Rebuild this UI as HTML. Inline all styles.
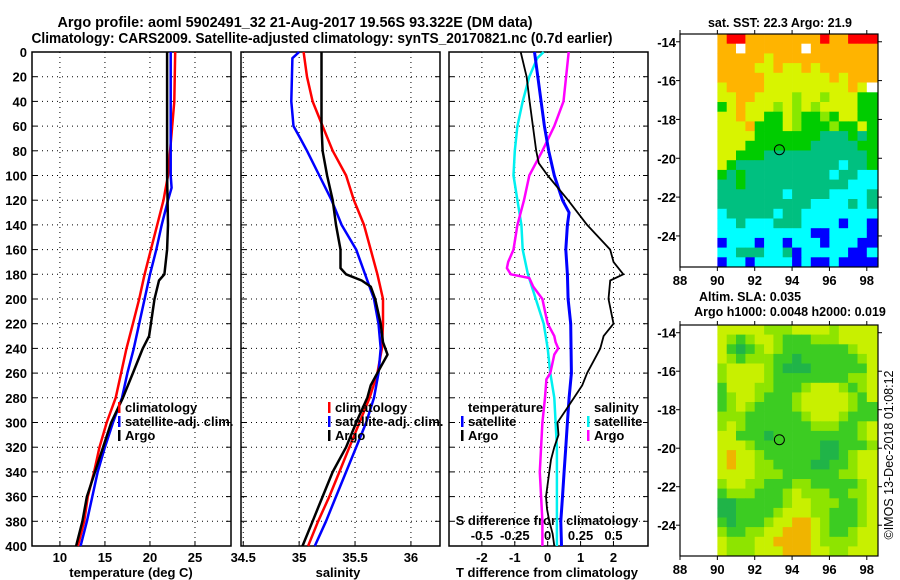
<!DOCTYPE html>
<html><head><meta charset="utf-8">
<style>
html,body{margin:0;padding:0;background:#fff;}
svg{display:block;font-family:"Liberation Sans",sans-serif;font-weight:bold;}
</style></head>
<body>
<svg id="c" width="900" height="580" viewBox="0 0 900 580" xmlns="http://www.w3.org/2000/svg">
<text x="295" y="27" font-size="14.5" text-anchor="middle" textLength="475" lengthAdjust="spacingAndGlyphs">Argo profile: aoml 5902491_32 21-Aug-2017 19.56S 93.322E (DM data)</text>
<text x="322" y="43" font-size="14.5" text-anchor="middle" textLength="581" lengthAdjust="spacingAndGlyphs">Climatology: CARS2009. Satellite-adjusted climatology: synTS_20170821.nc (0.7d earlier)</text>
<g id="g"></g>
</svg>
<script>
// ---------- data ----------
const depthTicks = [0,20,40,60,80,100,120,140,160,180,200,220,240,260,280,300,320,340,360,380,400];
const tempTicks = [10,15,20,25];
const salTicks = [34.5,35,35.5,36];
const dTTicks = [-2,-1,0,1,2];
const dSTicks = [-0.5,-0.25,0,0.25,0.5];
const dSTickLabels = ["-0.5","-0.25","0","0.25","0.5"];

const climDepth = [0,40,100,120,140,160,180,200,220,240,260,280,300,320,340,360,380,400];
const climTemp  = [22.8,22.7,22.0,21.5,20.8,20.1,19.4,18.8,18.1,17.4,16.8,16.2,15.2,14.4,13.8,13.1,12.7,12.0];
const satDepth  = [0,100,110,120,140,160,180,200,220,240,260,280,300,320,340,360,380,400];
const satTemp   = [22.3,22.3,22.4,22.0,21.3,20.7,20.0,19.4,18.8,18.2,17.5,16.9,15.9,15.0,14.2,13.6,13.0,12.3];
const argoTDepth= [0,40,100,140,160,180,185,200,220,230,240,260,280,300,320,340,360,380,400];
const argoTemp  = [21.9,21.9,21.9,22.0,21.9,21.6,21.0,20.5,20.1,19.9,19.2,18.1,17.0,15.7,14.8,13.9,13.0,12.5,11.8];

const climSDepth = [0,20,40,60,80,100,120,140,160,180,200,220,240,260,280,300,320,340,360,380,400];
const climSal    = [35.04,35.07,35.12,35.21,35.30,35.42,35.49,35.58,35.64,35.70,35.75,35.75,35.74,35.70,35.63,35.54,35.45,35.36,35.27,35.17,35.08];
const satSDepth  = [0,5,40,60,70,80,100,120,140,160,180,200,220,240,260,280,300,320,340,360,380,400];
const satSal     = [35.0,34.94,34.93,34.95,35.01,35.07,35.18,35.29,35.38,35.51,35.59,35.67,35.71,35.73,35.71,35.67,35.60,35.51,35.42,35.33,35.24,35.14];
const argoSDepth = [0,60,80,100,120,140,160,175,180,185,190,200,220,235,245,255,270,280,300,320,340,360,380,400];
const argoSal    = [35.20,35.20,35.21,35.25,35.30,35.33,35.37,35.37,35.42,35.56,35.64,35.68,35.73,35.75,35.79,35.73,35.64,35.61,35.51,35.42,35.30,35.21,35.12,35.03];

const dTArgoDepth = [0,20,40,60,80,90,100,120,140,160,170,180,185,200,220,230,240,250,260,270,280,290,300,310,320,330,340,360,370,380,390,400];
const dTArgo      = [-0.82,-0.64,-0.55,-0.45,-0.35,-0.27,0,0.62,1.2,1.9,2.0,2.3,1.9,1.85,2.0,1.7,1.6,1.4,1.2,1.05,0.8,0.55,0.3,0.33,0.2,0.1,0.05,-0.05,-0.02,0.05,0.15,0.2];
const dTSatDepth  = [0,20,40,60,80,100,120,130,140,160,180,200,220,260,280,300,320,340,360,380,400];
const dTSat       = [-0.4,-0.3,-0.2,-0.1,0.03,0.2,0.45,0.65,0.6,0.55,0.6,0.62,0.7,0.72,0.65,0.6,0.55,0.5,0.45,0.4,0.42];
const dSSatDepth  = [0,5,20,40,60,80,100,120,140,160,180,200,220,240,260,280,300,320,400];
const dSSat       = [-0.03,-0.08,-0.14,-0.19,-0.23,-0.25,-0.26,-0.23,-0.2,-0.19,-0.15,-0.09,-0.03,0,0.02,0.05,0.06,0.07,0.07];
const dSArgoDepth = [0,20,40,60,80,90,100,120,140,160,170,175,180,183,190,200,210,220,230,235,240,245,260,265,280,300,320,340,360,380,400];
const dSArgo      = [0.16,0.14,0.12,0.05,-0.04,-0.09,-0.14,-0.18,-0.23,-0.26,-0.3,-0.31,-0.28,-0.14,-0.11,-0.04,-0.02,0,0.05,0.06,0.08,0.05,0.02,-0.01,-0.02,-0.04,-0.05,-0.06,-0.05,-0.04,-0.04];

const lonTicks = [88,90,92,94,96,98];
const latTicks = [-14,-16,-18,-20,-22,-24];
const argoLon = 93.32, argoLat = -19.56;
// SST map categories, rows from -13.6 southward in 0.5 deg, cols from 90E in 0.5 deg
const sstRows = [
"orrooooooooroorrr","oowoooooowooooooo","oooooyooooooooooo","ooooyyoyyoyoooooo",
"oooooyyyyyyyoyooo","yooooyyyyyyyyyoyw","yyooyyyylyylyyygg","gyoyyylylylyyyygg",
"yyoyyggylgglgyygg","yyyogggylggglggyg","yyyygggggggtttgtg","yyygggggggtttttgg",
"yygggtttttttttttg","ygtttttttttttcttg","gtgtttttttttcttcc","ttgtttttttttttccc",
"tttttttcttttcccct","ttttttttttcccctct","ctttttcttcccccccc","cctccctttccccbccb",
"ccccccccccbbccccb","bcccbccbcccbcccbb","cctttcctbcccccbbc","bccbccccbcbbcbbbb"];
const sstColors = {r:"#ff0000",o:"#ffb400",y:"#d8f400",l:"#88e800",g:"#00cc00",t:"#00c080",c:"#00ffff",b:"#0000ff",w:"#ffffff"};
const slaRows = [
"YYYYYLLLYYYYLYYYY","YLGLYYLGGGLLLYYYY","YGDGLYLGGGGGGGLYY","YLGLLLGGDGGGGGGLY",
"LYYYYLGDDDGGGGGGY","LYYYYLGGGGGGGGLLY","GYYYLLGGGLYYYLGLY","GLYYLGGGLYYYYYLGY",
"GLYLGGGGLYYYYYLGG","LLLGGGGGGLYYYLGGG","LYLGGGGGGGLLLGGLY","YYGGGDGGGGGGGGGLY",
"YYYLGGGGGGGDDGGGL","YOYYLGGGGGGDDGLYY","YOYYLLGGGGDDGGLYY","YYYYLLLGGGGGGLLYY",
"LYYLLGGGLLGGGGGLY","GLLLGGGLYLLLGGLLY","DDGGGGGLYYLLLGGLY","DDGGGGLYYYLLGGGLY",
"GDGGGLYYOOYLGGGLY","LGGLLYYOOOYLGGLYY","YLLLYYOOOOYLLLLYY","YLLLYYYOOOYYLLYYY"];
const slaColors = {Y:"#c8f000",L:"#8ee400",G:"#3ccc22",D:"#20b448",O:"#f0b400"};

// ---------- helpers ----------
const NS="http://www.w3.org/2000/svg";
const G=document.getElementById('g');
function mk(tag,attrs,parent){const e=document.createElementNS(NS,tag);for(const k in attrs)e.setAttribute(k,attrs[k]);(parent||G).appendChild(e);return e;}
function txt(x,y,s,size,anchor,parent){const t=mk('text',{x:x,y:y,'font-size':size,'text-anchor':anchor||'middle'},parent);t.textContent=s;return t;}

const top0=52, bot0=546;
const yD = d => top0 + d*(bot0-top0)/400;
const panels = [
 {name:'temperature', x0:32, x1:231, v0:6.9, v1:29.0},
 {name:'salinity', x0:241, x1:440, v0:34.48, v1:36.26},
 {name:'difference', x0:449, x1:648, v0:-3.0, v1:3.05}
];
function xf(p){return v => p.x0 + (v-p.v0)*(p.x1-p.x0)/(p.v1-p.v0);}
const xT=xf(panels[0]), xS=xf(panels[1]), xDT=xf(panels[2]);
const xDS = s => xDT(s*4);

function line(xs,ds,fx,color,w,name,parent){
  let d='';
  for(let i=0;i<xs.length;i++){d+=(i?'L':'M')+fx(xs[i]).toFixed(1)+' '+yD(ds[i]).toFixed(1);}
  const p=mk('path',{d:d,fill:'none',stroke:color,'stroke-width':w,'stroke-linejoin':'round'},parent);
  
  
  return p;
}

// panels frame + grid
panels.forEach((p,pi)=>{
  const g=mk('g',{});
  
  
  const fx=xf(p);
  depthTicks.forEach(d=>{
    if(d>0&&d<400){const l=mk('line',{x1:p.x0,x2:p.x1,y1:yD(d),y2:yD(d),stroke:'#000','stroke-width':1,'stroke-dasharray':'1 4'},g);}
    mk('line',{x1:p.x0,x2:p.x0+5,y1:yD(d),y2:yD(d),stroke:'#000'},g);
    mk('line',{x1:p.x1,x2:p.x1-5,y1:yD(d),y2:yD(d),stroke:'#000'},g);
    if(pi===0){const t=txt(27,yD(d)+5,String(d),13,'end',g);
      
      }
  });
  const ticks = pi===0?tempTicks:(pi===1?salTicks:dTTicks);
  ticks.forEach(v=>{
    const x=fx(v);
    mk('line',{x1:x,x2:x,y1:top0,y2:bot0,stroke:'#000','stroke-dasharray':'1 4'},g);
    mk('line',{x1:x,x2:x,y1:bot0,y2:bot0-5,stroke:'#000'},g);
    const t=txt(x,562,String(v),13,'middle',g);
    
    
  });
  mk('rect',{x:p.x0,y:top0,width:p.x1-p.x0,height:bot0-top0,fill:'none',stroke:'#000','stroke-width':1.5},g);
});
txt(131,577,'temperature (deg C)',13);
txt(338,577,'salinity',13);
txt(547,577,'T difference from climatology',13);

// S diff axis labels inside panel 3
txt(547,525,'S difference from climatology',13);
dSTicks.forEach((s,i)=>{
  const t=txt(xDS(s),540,dSTickLabels[i],13,'middle');
  
  
});

// series
line(climTemp,climDepth,xT,'#ff0000',2.5,'temp-climatology-line');
line(satTemp,satDepth,xT,'#0000ff',2.5,'temp-satellite-line');
line(argoTemp,argoTDepth,xT,'#000',2.5,'temp-argo-line');
line(climSal,climSDepth,xS,'#ff0000',2.5,'sal-climatology-line');
line(satSal,satSDepth,xS,'#0000ff',2.5,'sal-satellite-line');
line(argoSal,argoSDepth,xS,'#000',2.5,'sal-argo-line');
line(dSSat,dSSatDepth,xDS,'#00f0f0',2.5,'s-diff-satellite-line');
line(dSArgo,dSArgoDepth,xDS,'#ff00ff',2.5,'s-diff-argo-line');
line(dTSat,dTSatDepth,xDT,'#0000ff',3,'t-diff-satellite-line');
line(dTArgo,dTArgoDepth,xDT,'#000',1.8,'t-diff-argo-line');

// legends
function legend(x,y,color,label){
  const g=mk('g',{});
  
  
  if(color) mk('rect',{x:x,y:y-10,width:2.5,height:11,fill:color},g);
  txt(x+7,y,label,13,'start',g);
}
legend(118,412,'#ff0000','climatology');
legend(118,426,'#0000ff','satellite-adj. clim.');
legend(118,440,'#000','Argo');
legend(328,412,'#ff0000','climatology');
legend(328,426,'#0000ff','satellite-adj. clim.');
legend(328,440,'#000','Argo');
legend(461,412,null,'temperature');
legend(461,426,'#0000ff','satellite');
legend(461,440,'#000','Argo');
legend(587,412,null,'salinity');
legend(587,426,'#00f0f0','satellite');
legend(587,440,'#ff00ff','Argo');

// maps
function mapPanel(ax0,ax1,ay0,ay1,lon0,lon1,latTop,latBot,rows,colors,name){
  const g=mk('g',{});
  
  
  const mx=lon=>ax0+(lon-lon0)*(ax1-ax0)/(lon1-lon0);
  const my=lat=>ay0+(latTop-lat)*(ay1-ay0)/(latTop-latBot);
  rows.forEach((r,i)=>{
    for(let j=0;j<r.length;j++){
      const la=latTop-i*0.5, lo=90+j*0.5;
      const x=mx(lo), y=my(la);
      const x2=j===r.length-1?ax1:mx(lo+0.5), y2=Math.min(my(la-0.5),ay1);
      const c=mk('rect',{x:x.toFixed(1),y:y.toFixed(1),width:(x2-x+0.4).toFixed(1),height:(y2-y+0.4).toFixed(1),fill:colors[r[j]]},g);
      
      
    }
  });
  mk('rect',{x:ax0,y:ay0,width:ax1-ax0,height:ay1-ay0,fill:'none',stroke:'#000','stroke-width':1.2},g);
  lonTicks.forEach(l=>{const x=mx(l);
    mk('line',{x1:x,x2:x,y1:ay1,y2:ay1+4,stroke:'#000'},g);
    mk('line',{x1:x,x2:x,y1:ay0,y2:ay0-4,stroke:'#000'},g);
    txt(x,ay1+18,String(l),13,'middle',g);});
  latTicks.forEach(l=>{const y=my(l);
    mk('line',{x1:ax0,x2:ax0-4,y1:y,y2:y,stroke:'#000'},g);
    mk('line',{x1:ax1,x2:ax1+4,y1:y,y2:y,stroke:'#000'},g);
    txt(ax0-4,y+5,String(l),13,'end',g);});
  const c=mk('circle',{cx:mx(argoLon),cy:my(argoLat),r:5,fill:'none',stroke:'#000','stroke-width':1},g);
  
  
}
mapPanel(680,878,34,267,88,98.6,-13.6,-25.6,sstRows,sstColors,'sst-map');
mapPanel(680,878,325,556,88,98.6,-13.6,-25.6,slaRows,slaColors,'sla-map');
txt(780,27,'sat. SST: 22.3 Argo: 21.9',12.5);
txt(750,301,'Altim. SLA: 0.035',12.5);
txt(790,316,'Argo h1000: 0.0048 h2000: 0.019',12.5);
const cr=txt(0,0,'©IMOS 13-Dec-2018 01:08:12',12.5,'middle');
cr.setAttribute('transform','translate(893,455) rotate(-90)');
cr.setAttribute('font-weight','normal');


</script>
</body></html>
